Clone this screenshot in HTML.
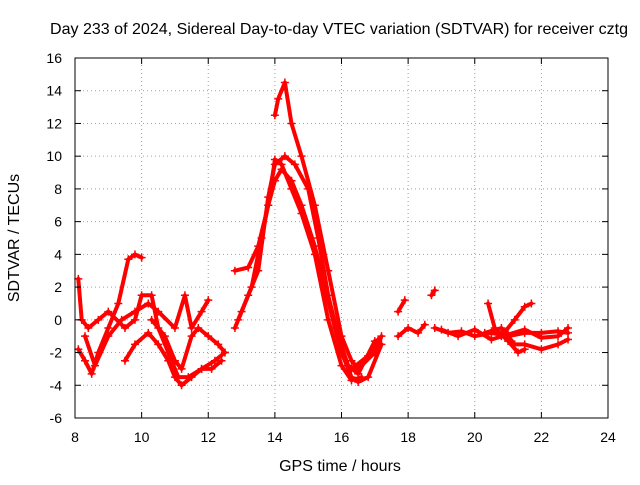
<!DOCTYPE html>
<html><head><meta charset="utf-8"><style>
body{margin:0;background:#fff}
svg{font-family:"Liberation Sans",sans-serif;font-size:14px}
</style></head><body>
<svg width="640" height="480">
<rect width="640" height="480" fill="#fff"/>
<g id="grid"></g>
<g id="series"></g>
<rect x="75" y="58" width="533" height="360" fill="none" stroke="#000" stroke-width="1"/>
<g id="ticks"></g>
<text x="50" y="34" font-size="16" textLength="578" lengthAdjust="spacingAndGlyphs">Day 233 of 2024, Sidereal Day-to-day VTEC variation (SDTVAR) for receiver cztg</text>
<text x="340" y="471" font-size="16" text-anchor="middle">GPS time / hours</text>
<text transform="translate(19,238) rotate(-90)" font-size="16" text-anchor="middle">SDTVAR / TECUs</text>
</svg>
<script>
const xTicks=[8,10,12,14,16,18,20,22,24];
const yTicks=[-6,-4,-2,0,2,4,6,8,10,12,14,16];
const track1=[[8.1,-1.8],[8.3,-2.5],[8.5,-3.3],[8.7,-2],[9.0,-0.5],[9.3,1],[9.6,3.7],[9.8,4],[10.0,3.8]];
const track2=[[8.1,2.5],[8.2,0],[8.4,-0.5],[8.7,0],[9,0.5],[9.5,-0.5],[9.8,0],[10,1.5],[10.3,1.5],[10.5,-0.5],[10.8,-2],[11.1,-3.5],[11.4,-3.5],[11.8,-3],[12.2,-2.5],[12.5,-2]];
const track3=[[8.3,-1],[8.6,-2.8],[9,-1],[9.4,0],[9.8,0.5],[10.2,1],[10.5,0.5],[11,-0.5],[11.3,1.5],[11.5,-0.5],[11.8,0.5],[12,1.2]];
const track4=[[9.5,-2.5],[9.8,-1.5],[10.2,-0.8],[10.5,-1.5],[10.8,-2.5],[11,-3.5],[11.2,-4],[11.5,-3.5],[11.8,-3],[12.1,-3],[12.4,-2.5]];
const track5=[[10.3,0],[10.7,-1],[11,-2.5],[11.2,-3],[11.5,-1],[11.7,-0.5],[12,-1],[12.3,-1.5],[12.5,-2]];
const peak1=[[12.8,-0.5],[13,0.5],[13.3,2],[13.6,5],[13.8,7],[14,8.5],[14.2,9.2],[14.5,8.5],[14.8,7],[15.2,4.5],[15.5,2],[15.8,-0.5],[16,-2],[16.3,-3.5],[16.5,-3.8],[16.8,-3.5],[17.2,-1.5]];
const peak2=[[12.9,0],[13.2,1.5],[13.5,3],[13.8,7.5],[14,9.5],[14.3,10],[14.6,9.5],[15,8],[15.3,5],[15.6,1.5],[15.9,-1],[16.2,-2.8],[16.5,-3.3],[17,-1.3]];
const peak3=[[14.0,12.5],[14.1,13.5],[14.3,14.5],[14.5,12],[14.8,10],[15.2,7],[15.6,3],[16,-1],[16.3,-2.5],[16.5,-3],[17,-2],[17.2,-1]];
const peak4=[[12.8,3],[13.2,3.2],[13.5,4.5],[13.8,7],[14,9.8],[14.2,9.5],[14.5,8],[14.8,6.5],[15.2,4],[15.6,0],[16,-2.8],[16.3,-3.7],[16.6,-3.5]];
const peak5=[[16.3,-3],[16.8,-2.2],[17.1,-1.2]];
const right1=[[17.7,-1],[18,-0.5],[18.3,-0.8],[18.5,-0.3]];
const right2=[[17.7,0.5],[17.9,1.2]];
const right3=[[18.7,1.5],[18.8,1.8]];
const right4=[[18.8,-0.5],[19.2,-0.8],[19.6,-0.7],[20,-1],[20.5,-0.8],[21,-1],[21.5,-0.8],[22,-0.8],[22.5,-0.7],[22.8,-0.8]];
const right5=[[20.3,-0.8],[20.8,-0.5],[21.2,-1.5],[21.5,-1.5],[22,-1.8],[22.5,-1.5],[22.8,-1.2]];
const right6=[[20.4,1],[20.6,-0.5],[21,-1.3],[21.3,-2],[21.5,-1.8]];
const right7=[[20.8,-1],[21.2,0],[21.5,0.8],[21.7,1]];
const right8=[[19,-0.6],[19.5,-1],[20,-0.6],[20.5,-1.2],[21,-0.9],[21.5,-0.6],[22,-1.1],[22.5,-1.0],[22.8,-0.5]];
const allTracks=[track1,track2,track3,track4,track5,peak1,peak2,peak3,peak4,peak5,right1,right2,right3,right4,right5,right6,right7,right8];
const X0=75,X1=608,Y0=418,Y1=58;
const xs=v=>X0+(v-8)/(24-8)*(X1-X0);
const ys=v=>Y0-(v+6)/(16+6)*(Y0-Y1);
const NS="http://www.w3.org/2000/svg";
const g=document.getElementById('grid'),t=document.getElementById('ticks'),s=document.getElementById('series');
function mk(tag,attrs,parent){const e=document.createElementNS(NS,tag);for(const k in attrs)e.setAttribute(k,attrs[k]);parent.appendChild(e);return e;}
xTicks.forEach(v=>{const x=xs(v);
 if(v>8&&v<24){const l=mk('line',{x1:x,x2:x,y1:Y0,y2:Y1,stroke:'#a0a0a0','stroke-dasharray':'1,3'},g);
 
 }
 mk('line',{x1:x,x2:x,y1:Y0,y2:Y0-6,stroke:'#000'},t);
 mk('line',{x1:x,x2:x,y1:Y1,y2:Y1+6,stroke:'#000'},t);
 const tx=mk('text',{x:x,y:442,'text-anchor':'middle'},t);tx.textContent=v;
 
 
});
yTicks.forEach(v=>{const y=ys(v);
 if(v>-6&&v<16){const l=mk('line',{x1:X0,x2:X1,y1:y,y2:y,stroke:'#a0a0a0','stroke-dasharray':'1,3'},g);
 
 }
 mk('line',{x1:X0,x2:X0+6,y1:y,y2:y,stroke:'#000'},t);
 mk('line',{x1:X1,x2:X1-6,y1:y,y2:y,stroke:'#000'},t);
 const tx=mk('text',{x:62,y:y+5,'text-anchor':'end'},t);tx.textContent=v;
 
 
});
allTracks.forEach(tr=>{
 const pts=tr.map(p=>xs(p[0]).toFixed(1)+','+ys(p[1]).toFixed(1)).join(' ');
 const pl=mk('polyline',{points:pts,fill:'none',stroke:'#f00','stroke-width':4,'stroke-linejoin':'round','stroke-linecap':'round'},s);
 
 
 tr.forEach(p=>{const x=xs(p[0]),y=ys(p[1]);
  const m=mk('path',{d:`M${x-4},${y}H${x+4}M${x},${y-4}V${y+4}`,stroke:'#f00','stroke-width':1.5},s);
  
  
 });
});
</script>
</body></html>
